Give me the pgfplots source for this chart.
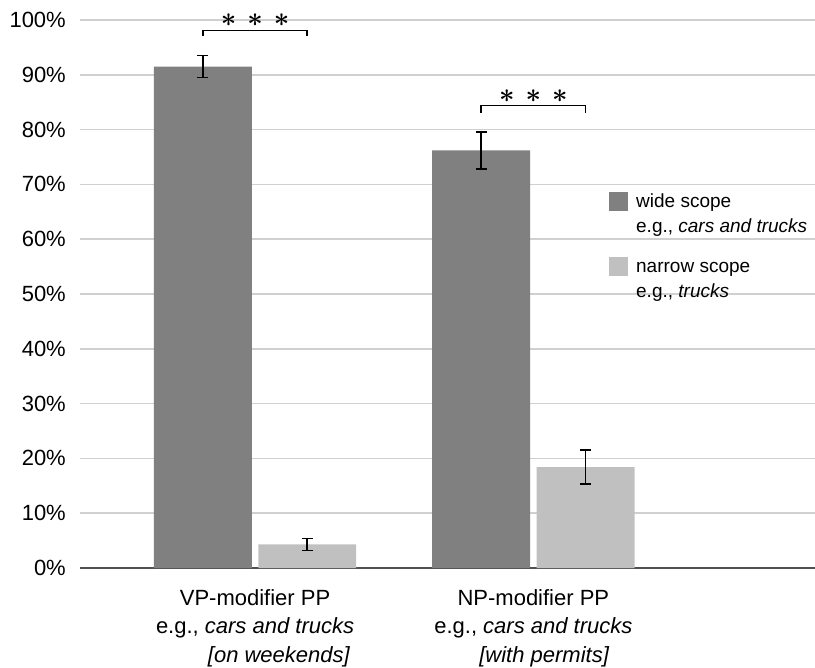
\documentclass[border=0pt]{standalone}
\usepackage{pgfplots}
\pgfplotsset{compat=1.18}
\usepackage{pgfplotstable}
\usepackage{graphicx}
\usepackage{fontspec}
\setmainfont{Liberation Sans}
\definecolor{wide}{HTML}{808080}
\definecolor{narrow}{HTML}{C0C0C0}
\definecolor{gridc}{HTML}{D0D0D0}
\definecolor{axisc}{HTML}{505050}
\newcommand{\st}{\scalebox{2.7}{\boldmath$\ast$}}
\newcommand{\stars}{\st\hspace{11bp}\st\hspace{11bp}\st}

\pgfplotstableread{
x y e
0 91.5 2.0
1 76.2 3.4
}\widedata
\pgfplotstableread{
x y e
0 4.3 1.1
1 18.4 3.1
}\narrowdata

\begin{document}
\begin{tikzpicture}[x=1bp,y=1bp]
\begin{axis}[
  at={(80bp,100bp)}, anchor=south west,
  scale only axis, width=735bp, height=548bp,
  xmin=-0.629, xmax=2.012, ymin=0, ymax=100,
  ybar, bar width=0.352,
  clip=false,
  axis x line*=bottom, axis y line*=left,
  x axis line style={draw=axisc, line width=2bp, -},
  y axis line style={draw=none},
  ymajorgrids, grid style={gridc, line width=1.5bp},
  ytick={0,10,...,100},
  yticklabel={\pgfmathprintnumber{\tick}\%},
  /pgf/number format/assume math mode=true,
  yticklabel style={anchor=east, inner sep=0pt, xshift=-14bp, font=\fontsize{22bp}{26bp}\selectfont},
  major tick length=0pt,
  xtick={0,1},
  xticklabels={{VP-modifier PP\\e.g., \textit{cars and trucks}\\\hspace*{48bp}\textit{[on weekends]}},
               {NP-modifier PP\\e.g., \textit{cars and trucks}\\\hspace*{22bp}\textit{[with permits]}}},
  xticklabel style={align=center, anchor=north, inner sep=0pt, yshift=-21bp, font=\fontsize{22bp}{28.5bp}\selectfont},
  error bars/error bar style={black, line width=1.6bp},
  error bars/error mark options={rotate=90, mark size=5.5bp, line width=1.6bp, black},
]
\addplot[fill=wide, draw=none, bar shift=-0.1876,
  error bars/.cd, y dir=both, y explicit]
  table[x=x, y=y, y error=e] {\widedata};
\addplot[fill=narrow, draw=none, bar shift=0.1876,
  error bars/.cd, y dir=both, y explicit]
  table[x=x, y=y, y error=e] {\narrowdata};

% legend
\node[anchor=north west, inner sep=0pt, font=\fontsize{19bp}{25bp}\selectfont]
  at (rel axis cs:0.7197,0.6907) {%
  \begin{tabular}{@{}l@{\hspace{8bp}}l@{}}
  \raisebox{-4bp}{\textcolor{wide}{\rule{19bp}{19bp}}} & wide scope\\
  & e.g., \textit{cars and trucks}\\[15bp]
  \raisebox{-4bp}{\textcolor{narrow}{\rule{19bp}{19bp}}} & narrow scope\\
  & e.g., \textit{trucks}
  \end{tabular}};

% significance brackets
\draw[black, line width=1.6bp] (axis cs:-0.1876,97.1) -- (axis cs:-0.1876,98.05) -- (axis cs:0.1876,98.05) -- (axis cs:0.1876,97.1);
\node[inner sep=0pt] at (axis cs:0,99.9) {\stars};
\draw[black, line width=1.6bp] (axis cs:0.8124,83.1) -- (axis cs:0.8124,84.4) -- (axis cs:1.1876,84.4) -- (axis cs:1.1876,83.1);
\node[inner sep=0pt] at (axis cs:1,86.1) {\stars};
\end{axis}
\pgfresetboundingbox
\path[use as bounding box] (0,0) rectangle (815bp,668bp);
\end{tikzpicture}
\end{document}
